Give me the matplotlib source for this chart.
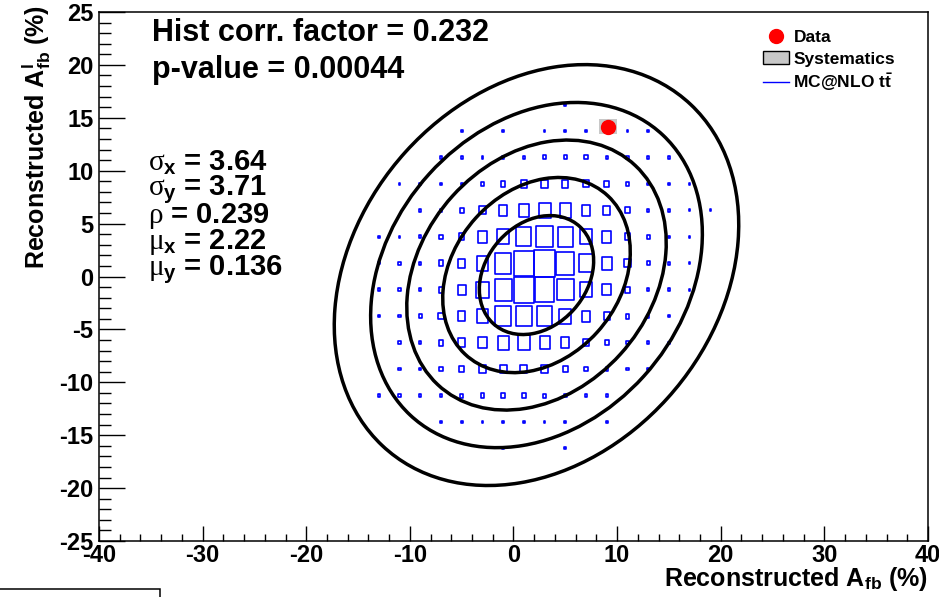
import math
import numpy as np
import matplotlib
matplotlib.use('Agg')
import matplotlib.pyplot as plt
from matplotlib.patches import Ellipse, Rectangle, Patch
from matplotlib.collections import PatchCollection
from matplotlib.lines import Line2D

plt.rcParams['font.family'] = ['Liberation Sans', 'DejaVu Sans']
plt.rcParams['font.weight'] = 'bold'
plt.rcParams['axes.unicode_minus'] = False
plt.rcParams['mathtext.fontset'] = 'custom'
plt.rcParams['mathtext.rm'] = 'Liberation Sans:bold'
plt.rcParams['mathtext.bf'] = 'Liberation Sans:bold'
plt.rcParams['mathtext.it'] = 'Liberation Serif:weight=normal'
plt.rcParams['mathtext.sf'] = 'Liberation Sans:bold'

############ fit results ############
corr_factor = 0.232
p_value = 0.00044
sigma_x = 3.64
sigma_y = 3.71
rho = 0.239
mu_x = 2.22
mu_y = 0.136
n_sigma = [1, 2, 3, 4, 5]  # contour levels

############ measurement ############
data_x = 9.15
data_y = 14.17
syst_x = 0.87
syst_y = 0.70

############ MC@NLO pseudo-experiments (2D histogram) ############
bin_x = [-13, -11, -9, -7, -5, -3, -1, 1, 3, 5, 7, 9, 11, 13, 15, 17, 19]
bin_y = [16.25, 13.75, 11.25, 8.75, 6.25, 3.75, 1.25, -1.25, -3.75,
         -6.25, -8.75, -11.25, -13.75, -16.25]
bin_wx = 2.0
bin_wy = 2.5
counts = np.array([
    [0, 0, 0, 0, 0, 0, 0, 0, 0, 8, 0, 0, 0, 0, 0, 0, 0],
    [0, 0, 0, 0, 8, 0, 8, 0, 8, 8, 8, 0, 8, 8, 0, 0, 0],
    [0, 0, 0, 8, 8, 8, 8, 12, 15, 15, 15, 12, 10, 10, 8, 0, 0],
    [0, 8, 8, 10, 10, 15, 20, 30, 32, 30, 26, 22, 15, 10, 8, 8, 0],
    [0, 0, 10, 10, 20, 30, 40, 50, 58, 55, 42, 35, 23, 12, 10, 8, 8],
    [8, 8, 12, 16, 26, 45, 58, 73, 80, 75, 58, 45, 27, 15, 10, 8, 0],
    [8, 10, 12, 22, 36, 55, 78, 95, 100, 88, 68, 48, 30, 15, 10, 8, 0],
    [10, 10, 12, 22, 38, 60, 83, 97, 95, 80, 55, 42, 22, 12, 10, 8, 0],
    [10, 10, 15, 25, 36, 55, 74, 78, 76, 58, 42, 30, 18, 12, 8, 0, 0],
    [0, 10, 12, 22, 33, 43, 52, 55, 48, 40, 26, 20, 10, 10, 8, 0, 0],
    [0, 10, 10, 16, 22, 30, 33, 33, 30, 23, 16, 12, 10, 10, 0, 0, 0],
    [8, 10, 10, 12, 15, 16, 16, 16, 15, 12, 10, 10, 0, 0, 0, 0, 0],
    [0, 0, 0, 8, 8, 8, 8, 8, 8, 8, 0, 8, 0, 0, 0, 0, 0],
    [0, 0, 0, 0, 0, 0, 8, 0, 0, 8, 0, 0, 0, 0, 0, 0, 0],
])

####################### Plotting #######################
fig = plt.figure(figsize=(9.39, 5.97), dpi=100)
ax = fig.add_axes([0.1054, 0.0938, 0.8829, 0.8861])
ax.set_xlim(-40, 40)
ax.set_ylim(-25, 25)

# box-style histogram: box side proportional to bin content
vmax = counts.max()
boxes = []
for j, yc in enumerate(bin_y):
    for i, xc in enumerate(bin_x):
        c = counts[j, i]
        if c <= 0:
            continue
        f = c / vmax
        w = f * bin_wx
        h = f * bin_wy
        boxes.append(Rectangle((xc - w / 2, yc - h / 2), w, h))
ax.add_collection(PatchCollection(boxes, facecolor='none', edgecolor='blue',
                                  linewidth=1.2, zorder=2))

# gaussian contours at the 2D coverage of 1..5 sigma
cov = np.array([[sigma_x**2, rho * sigma_x * sigma_y],
                [rho * sigma_x * sigma_y, sigma_y**2]])
vals, vecs = np.linalg.eigh(cov)
angle = math.degrees(math.atan2(vecs[1, 1], vecs[0, 1]))
for n in n_sigma:
    k = math.sqrt(-2 * math.log(math.erfc(n / math.sqrt(2))))
    ax.add_patch(Ellipse((mu_x, mu_y), 2 * k * math.sqrt(vals[1]),
                         2 * k * math.sqrt(vals[0]), angle=angle,
                         fill=False, edgecolor='black', linewidth=2.5,
                         zorder=3))

# data point with systematic box
ax.add_patch(Rectangle((data_x - syst_x, data_y - syst_y), 2 * syst_x,
                       2 * syst_y, facecolor='#c8c8c8', edgecolor='none',
                       zorder=4))
ax.plot([data_x], [data_y], 'o', color='red', markersize=10, zorder=5)

# axes cosmetics
ax.set_xticks(np.arange(-40, 41, 10))
ax.set_xticks(np.arange(-40, 41, 2), minor=True)
ax.set_yticks(np.arange(-25, 26, 5))
ax.set_yticks(np.arange(-25, 26, 1), minor=True)
ax.tick_params(axis='both', which='both', direction='in', labelsize=17,
               width=1.0, top=False, right=False)
ax.tick_params(axis='x', which='major', length=11, pad=2)
ax.tick_params(axis='x', which='minor', length=5)
ax.tick_params(axis='y', which='major', length=19, pad=4)
ax.tick_params(axis='y', which='minor', length=8.5)
for s in ax.spines.values():
    s.set_linewidth(1.1)

ax.text(1.0, -0.085, r'Reconstructed A$_{\mathbf{fb}}$ (%)', transform=ax.transAxes,
        ha='right', va='baseline', fontsize=18)
ax.text(-0.076, 1.013, r'Reconstructed A$^{\mathbf{l}}_{\mathbf{fb}}$ (%)',
        transform=ax.transAxes, rotation=90, ha='center', va='top', fontsize=18)

ax.text(0.064, 0.96, 'Hist corr. factor = %.3f' % corr_factor,
        transform=ax.transAxes, fontsize=22, va='center')
ax.text(0.064, 0.89, 'p-value = %.5f' % p_value,
        transform=ax.transAxes, fontsize=22, va='center')

stats = [r'$\sigma_{\mathbf{x}}$ = %.2f' % sigma_x,
         r'$\sigma_{\mathbf{y}}$ = %.2f' % sigma_y,
         r'$\rho$ = %.3f' % rho,
         r'$\mu_{\mathbf{x}}$ = %.2f' % mu_x,
         r'$\mu_{\mathbf{y}}$ = %.3f' % mu_y]
for i, s in enumerate(stats):
    ax.text(0.059, 0.715 - i * 0.05, s, transform=ax.transAxes, fontsize=21,
            va='center')

handles = [Line2D([], [], marker='o', color='red', linestyle='none', markersize=10),
           Patch(facecolor='#c8c8c8', edgecolor='black', linewidth=1.0),
           Line2D([], [], color='blue', linewidth=1.0)]
labels = ['Data', 'Systematics', r'MC@NLO t$\bar{\mathbf{t}}$']
ax.legend(handles, labels, loc='upper left', bbox_to_anchor=(0.801, 0.967),
          frameon=False, fontsize=12.5, handlelength=1.5, handleheight=0.85,
          handletextpad=0.25, labelspacing=0.3, borderpad=0, borderaxespad=0)

# leftover pad outline at the lower-left corner
fig.add_artist(Rectangle((-0.01, -0.01), 0.1804, 0.0234, transform=fig.transFigure,
                         fill=False, edgecolor='black', linewidth=1.1))

plt.savefig('out.png', dpi=100)
